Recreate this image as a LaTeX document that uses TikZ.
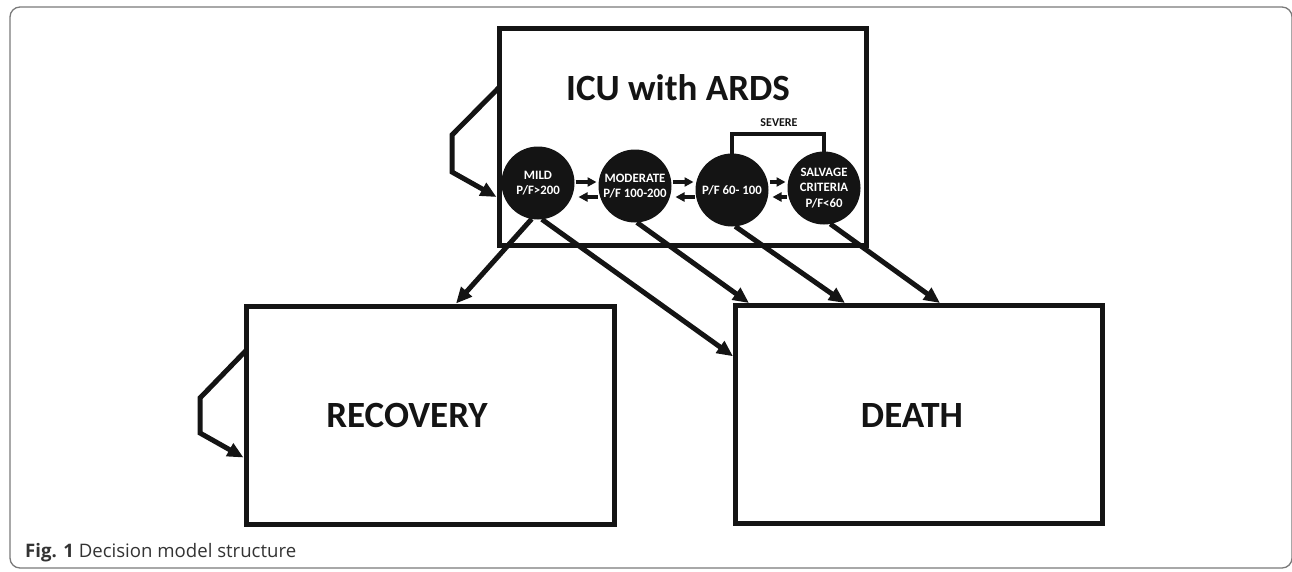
\documentclass[tikz,border=0pt]{standalone}
\usepackage{fontspec}
\setmainfont{Carlito}
\newfontfamily\capfont{Open Sans}
\usetikzlibrary{arrows.meta,calc}
\definecolor{ink}{HTML}{141414}
\definecolor{framegray}{HTML}{7A7A7A}
\definecolor{captext}{HTML}{333333}
\begin{document}
\begin{tikzpicture}[x=1pt,y=-1pt,
  statebox/.style={draw=ink, line width=5pt, minimum width=#1, inner sep=0pt},
  statebox/.default=367pt,
  bigtitle/.style={font=\bfseries\fontsize{37}{44}\selectfont, text=ink, inner sep=0pt},
  stage/.style={circle, fill=ink, minimum size=73pt, inner sep=0pt, outer sep=0pt,
    text=white, align=center, font=\bfseries\fontsize{12.8}{15.5}\selectfont},
  bigarrow/.style={draw=ink, line width=5pt, -{Triangle[length=16pt,width=14pt]}},
  smallarrow/.style={draw=ink, line width=3.5pt, -{Triangle[length=9pt,width=9pt]}},
  link/.style={draw=ink, line width=4pt}
]
\useasboundingbox (0,0) rectangle (1292,571);
% outer frame
\draw[framegray, line width=1.3pt, rounded corners=10pt] (10,7) rectangle (1292,568);

% boxes
\node[statebox=367pt, minimum height=217pt] (icu) at (682.5,136.5) {};
\node[statebox=368pt, minimum height=218pt] (rec) at (430,415) {};
\node[statebox=367pt, minimum height=217.5pt] (death) at (919,414.25) {};

% titles
\node[bigtitle] (icutitle) at (678,88) {ICU with ARDS};
\node[bigtitle] (rectitle) at (407,415) {RECOVERY};
\node[bigtitle] (deathtitle) at (912,415) {DEATH};

% stages
\node[stage] (mild) at (538,183) {MILD\\P/F>200};
\node[stage] (mod) at (635,186) {MODERATE\\P/F 100-200};
\node[stage] (pf) at (732,190) {P/F 60- 100};
\node[stage] (salv) at (824,188) {SALVAGE\\CRITERIA\\P/F<60};

% severe bracket
\draw[link] (pf.north) -- ++(0,-20) coordinate (sevl) -| (salv.north);
\node[font=\bfseries\fontsize{12}{14}\selectfont, text=ink, inner sep=0pt] (severe) at (779,123) {SEVERE};

% short arrows between stages
\coordinate (yup) at (0,182);
\coordinate (ydn) at (0,197);
\draw[smallarrow, shorten <=1pt, shorten >=2pt] (mild.east |- yup) -- (mod.west |- yup);
\draw[smallarrow, shorten <=1pt, shorten >=4pt] (mod.west |- ydn) -- (mild.east |- ydn);
\draw[smallarrow, shorten <=1pt, shorten >=2pt] (mod.east |- yup) -- (pf.west |- yup);
\draw[smallarrow, shorten <=1pt, shorten >=4pt] (pf.west |- ydn) -- (mod.east |- ydn);
\draw[smallarrow, shorten <=1pt, shorten >=2pt] (pf.east |- yup) -- (salv.west |- yup);
\draw[smallarrow, shorten <=1pt, shorten >=4pt] (salv.west |- ydn) -- (pf.east |- ydn);

% ICU self loop
\coordinate (il1) at (452,135);
\coordinate (il2) at (452,172);
\draw[bigarrow, line join=miter] ($(icu.north west)+(2.5,62)$) -- (il1) -- (il2) -- (icu.west |- ydn);

% Recovery self loop
\coordinate (rl1) at (200,398);
\coordinate (rl2) at (200,433);
\draw[bigarrow, line join=miter] ($(rec.north west)+(2.5,47)$) -- (rl1) -- (rl2) -- ($(rec.north west)+(0,154)$);

% transitions
\draw[bigarrow] (mild.260) -- ([xshift=26pt]rec.north);
\draw[bigarrow] (mild.276) -- ([yshift=58pt]death.west);
\draw[bigarrow] (mod.273) -- ([xshift=-170pt]death.north);
\draw[bigarrow] (pf.275) -- ([xshift=-74pt]death.north);
\draw[bigarrow] (salv.280) -- ([xshift=21pt]death.north);

% caption
\node[anchor=base west, inner sep=0pt, text=captext, font=\capfont\fontsize{18.6}{22}\selectfont] (cap) at (25,557) {\textbf{Fig. 1} Decision model structure};
\end{tikzpicture}
\end{document}
